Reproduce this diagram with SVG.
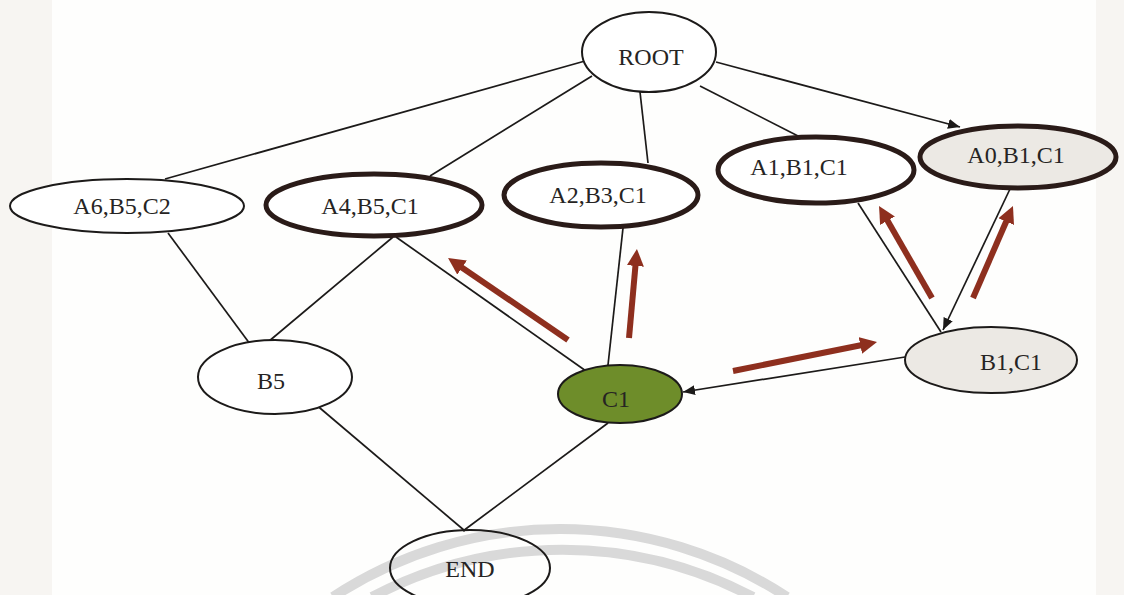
<svg xmlns="http://www.w3.org/2000/svg" width="1124" height="595" viewBox="0 0 1124 595">
  <defs>
    <style>
      .bg { fill: #fefefd; }
      .band { fill: #f7f5f2; }
      .node { fill: #ffffff; stroke: #1c1a19; stroke-width: 2; }
      .bold { stroke: #2a1b18; stroke-width: 5; }
      .visited { fill: #ece9e4; }
      .current { fill: #6e8d2a; }
      .open { fill: none; }
      .label { font-family: "Liberation Serif", "Times New Roman", serif; font-size: 24px; fill: #262423; text-anchor: middle; }
      .edge { stroke: #1c1a19; stroke-width: 1.7; fill: none; }
      .flow { stroke: #8e2f1e; stroke-width: 6; fill: none; }
      .seal { stroke: #d9d9d9; stroke-width: 10; fill: none; }
    </style>
    <marker id="tip" markerUnits="userSpaceOnUse" viewBox="0 0 12 10" markerWidth="12" markerHeight="10" refX="12" refY="5" orient="auto">
      <path d="M0,0 L12,5 L0,10 z" fill="#1c1a19"/>
    </marker>
    <marker id="flowTip" markerUnits="userSpaceOnUse" viewBox="0 0 17 17" markerWidth="17" markerHeight="17" refX="3" refY="8.5" orient="auto">
      <path d="M0,0 L17,8.5 L0,17 z" fill="#8e2f1e"/>
    </marker>
  </defs>

  <!-- paper -->
  <rect class="bg" x="0" y="0" width="1124" height="595"/>
  <rect class="band" x="0" y="0" width="52" height="595"/>
  <rect class="band" x="1096" y="0" width="28" height="595"/>

  <!-- faint seal arcs at the foot of the page -->
  <g id="seal">
    <path class="seal" d="M333,597 A413,413 0 0 1 787,597"/>
    <path class="seal" d="M372,597 A407.5,407.5 0 0 1 753,597"/>
  </g>

  <!-- lattice connectors -->
  <g id="connectors">
    <line class="edge" x1="585" y1="61" x2="165" y2="179"/>
    <line class="edge" x1="592" y1="76" x2="430" y2="176"/>
    <line class="edge" x1="640" y1="92" x2="648" y2="163"/>
    <line class="edge" x1="700" y1="86" x2="800" y2="137"/>
    <line class="edge" x1="716" y1="62" x2="960" y2="127" marker-end="url(#tip)"/>
    <line class="edge" x1="168" y1="233" x2="250" y2="344"/>
    <line class="edge" x1="393" y1="237" x2="268" y2="342"/>
    <line class="edge" x1="396" y1="237" x2="586" y2="371"/>
    <line class="edge" x1="623" y1="228" x2="608" y2="365"/>
    <line class="edge" x1="858" y1="203" x2="941" y2="332"/>
    <line class="edge" x1="1010" y1="189" x2="943" y2="330" marker-end="url(#tip)"/>
    <line class="edge" x1="905" y1="357" x2="683" y2="392" marker-end="url(#tip)"/>
    <line class="edge" x1="608" y1="423" x2="463" y2="531"/>
    <line class="edge" x1="314" y1="403" x2="465" y2="531"/>
  </g>

  <!-- traversal arrows -->
  <g id="flow">
    <line class="flow" x1="568" y1="340" x2="459.6" y2="265.9" marker-end="url(#flowTip)"/>
    <line class="flow" x1="629" y1="338" x2="635.7" y2="262.9" marker-end="url(#flowTip)"/>
    <line class="flow" x1="733" y1="371" x2="863.3" y2="344.8" marker-end="url(#flowTip)"/>
    <line class="flow" x1="932" y1="298" x2="886" y2="218.1" marker-end="url(#flowTip)"/>
    <line class="flow" x1="973" y1="298" x2="1007.4" y2="218.8" marker-end="url(#flowTip)"/>
  </g>

  <g id="root">
    <ellipse class="node" cx="649" cy="52" rx="67" ry="40"/>
    <text class="label" x="651" y="65">ROOT</text>
  </g>
  <g id="a6b5c2">
    <ellipse class="node" cx="127" cy="206" rx="117" ry="27"/>
    <text class="label" x="122" y="214">A6,B5,C2</text>
  </g>
  <g id="a4b5c1">
    <ellipse class="node bold" cx="374" cy="205" rx="108" ry="31"/>
    <text class="label" x="370" y="214">A4,B5,C1</text>
  </g>
  <g id="a2b3c1">
    <ellipse class="node bold" cx="601" cy="195" rx="97" ry="32"/>
    <text class="label" x="598" y="203">A2,B3,C1</text>
  </g>
  <g id="a1b1c1">
    <ellipse class="node bold" cx="816" cy="170" rx="98" ry="33"/>
    <text class="label" x="799" y="175">A1,B1,C1</text>
  </g>
  <g id="a0b1c1">
    <ellipse class="node bold visited" cx="1018" cy="157" rx="98" ry="31"/>
    <text class="label" x="1016" y="163">A0,B1,C1</text>
  </g>
  <g id="b5">
    <ellipse class="node" cx="275" cy="377" rx="77" ry="37"/>
    <text class="label" x="271" y="389">B5</text>
  </g>
  <g id="c1">
    <ellipse class="node current" cx="620" cy="394" rx="62" ry="29"/>
    <text class="label" x="616" y="407">C1</text>
  </g>
  <g id="b1c1">
    <ellipse class="node visited" cx="991" cy="360" rx="86" ry="33"/>
    <text class="label" x="1011" y="370">B1,C1</text>
  </g>
  <g id="end">
    <ellipse class="node open" cx="470" cy="568" rx="80" ry="38"/>
    <text class="label" x="470" y="577">END</text>
  </g>
</svg>
